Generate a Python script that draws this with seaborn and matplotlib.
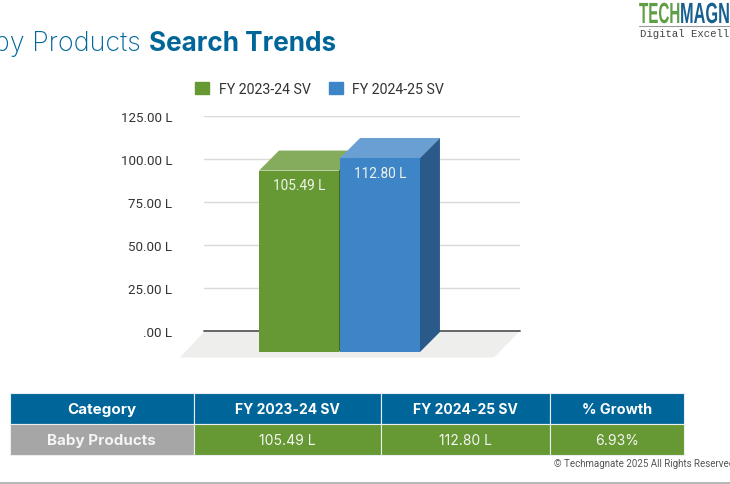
import matplotlib
matplotlib.use("Agg")
import matplotlib.patheffects as pe
import matplotlib.pyplot as plt
import pandas as pd
import seaborn as sns
from matplotlib.patches import Polygon, Rectangle
from matplotlib.transforms import Affine2D

category = ["Baby Products"]
series_names = ["FY 2023-24 SV", "FY 2024-25 SV"]
series_values = [105.49, 112.80]
value_labels = ["105.49 L", "112.80 L"]
tick_values = [0, 25, 50, 75, 100, 125]
tick_labels = [".00 L", "25.00 L", "50.00 L", "75.00 L", "100.00 L", "125.00 L"]
table_header = ["Category", "FY 2023-24 SV", "FY 2024-25 SV", "% Growth"]
table_row = ["Baby Products", "105.49 L", "112.80 L", "6.93%"]

W, H = 730, 485
DEPTH = 20
GREEN = "#669933"
BLUE = "#3d85c6"
TITLE_BLUE = "#006699"

sns.set_theme(style="white")
plt.rcParams["font.family"] = ["Roboto", "DejaVu Sans"]

fig = plt.figure(figsize=(W / 100, H / 100), dpi=100, facecolor="white")


class Squeeze(pe.AbstractPathEffect):
    # no condensed font is installed, so narrow the logo letters sideways
    def __init__(self, x0, factor):
        super().__init__()
        self.x0 = x0
        self.factor = factor

    def draw_path(self, renderer, gc, tpath, affine, rgbFace=None):
        squeeze = Affine2D().translate(-self.x0, 0).scale(self.factor, 1).translate(self.x0, 0)
        renderer.draw_path(gc, tpath, affine + squeeze, rgbFace)


def axes_px(left, top, right, bottom, zorder):
    ax = fig.add_axes(
        [left / W, 1 - bottom / H, (right - left) / W, (bottom - top) / H],
        zorder=zorder,
    )
    ax.patch.set_visible(False)
    return ax


# whole page in pixels, for floor, table and page text
page = axes_px(0, 0, W, H, 0)
page.set_xlim(0, W)
page.set_ylim(H, 0)
page.axis("off")

# floor of the 3d chart
page.add_patch(Polygon([(180, 358.5), (494, 358.5), (520, 332), (205, 332)], color="#eeeeec", lw=0))

# back wall: grid lines and tick labels
back = axes_px(204, 117, 520, 332, 1)
back.set_ylim(0, 125)
back.set_xlim(0, 1)
back.set_xticks([])
back.set_yticks(tick_values)
back.set_yticklabels(tick_labels, fontsize=9.6, color="#333333")
back.tick_params(axis="y", length=0, pad=23)
back.grid(axis="y", color="#d9d9d9", lw=1)
sns.despine(ax=back, left=True, top=True, right=True, bottom=True)
back.axhline(0, color="#666666", lw=1.4, clip_on=False)

# front plane, bars drawn by seaborn
front = axes_px(181.5, 138, 497.5, 353, 3)
df = pd.DataFrame(
    {"category": category * 2, "series": series_names, "value": series_values}
)
sns.barplot(
    data=df, x="category", y="value", hue="series", hue_order=series_names,
    palette=[GREEN, BLUE], width=0.513, gap=0.015, saturation=1, linewidth=0,
    edgecolor="none", ax=front,
)
front.set_ylim(0, 125)
front.set_xlim(-0.5, 0.5)
front.axis("off")

# top and side faces taken from the bars seaborn placed
depth = axes_px(0, 0, W, H, 2)
depth.set_xlim(0, W)
depth.set_ylim(H, 0)
depth.axis("off")
fig.canvas.draw()
face_colors = [("#85ab5c", "#3f6b20"), ("#6a9fd4", "#2a5a8a")]
for container, (top_col, side_col) in zip(front.containers, face_colors):
    bar = container[0]
    x0, y0 = front.transData.transform((bar.get_x(), bar.get_height()))
    x1, y1 = front.transData.transform((bar.get_x() + bar.get_width(), 0))
    ytop, ybot = H - y0, H - y1
    depth.add_patch(Polygon(
        [(x0, ytop), (x1, ytop), (x1 + DEPTH, ytop - DEPTH), (x0 + DEPTH, ytop - DEPTH)],
        color=top_col, lw=0,
    ))
    depth.add_patch(Polygon(
        [(x1, ytop), (x1 + DEPTH, ytop - DEPTH), (x1 + DEPTH, ybot - DEPTH), (x1, ybot)],
        color=side_col, lw=0,
    ))

for container, label in zip(front.containers, value_labels):
    front.bar_label(container, labels=[label], padding=-15.5, fontsize=9.8, color="#f0f4ea")

handles = [Rectangle((0, 0), 1, 1, color=c) for c in [GREEN, BLUE]]
front.legend(
    handles, series_names, loc="upper left", bbox_to_anchor=(195 / W, 1 - 82.5 / H),
    bbox_transform=fig.transFigure, frameon=False, ncol=2, fontsize=10.2,
    handlelength=1.0, handleheight=1.0, handletextpad=0.66, columnspacing=1.3,
    borderpad=0, borderaxespad=0, labelcolor="#333333",
)

# title, the first letters run off the page as in the source
page.text(141, 51, "Baby Products", ha="right", va="baseline", fontsize=19.4,
          color=TITLE_BLUE, family="Inter", weight="light")
page.text(149, 51, "Search Trends", ha="left", va="baseline", fontsize=18.8,
          color=TITLE_BLUE, family="Inter", weight="bold")

# logo
page.text(639, 24, "TECH", ha="left", va="baseline", fontsize=21, color="#5f9e45",
          family="Liberation Sans", weight="bold", path_effects=[Squeeze(639, 0.52)])
page.text(680, 24, "MAGNATE", ha="left", va="baseline", fontsize=21, color="#17608f",
          family="Liberation Sans", weight="bold", path_effects=[Squeeze(680, 0.56)])
page.plot([639, 730], [26.5, 26.5], color="#999999", lw=0.8)
page.text(640, 37, "Digital Excellence", ha="left", va="baseline", fontsize=7.7,
          color="#444444", family="Liberation Mono")

# table under the chart
col_edges = [10, 193.5, 380.5, 550, 684]
row_edges = [394, 424.5, 456]
header_sizes = [10.9, 10, 10, 10.4]
for i, text in enumerate(table_header):
    x0, x1 = col_edges[i], col_edges[i + 1]
    page.add_patch(Rectangle((x0, row_edges[0]), x1 - x0, row_edges[1] - row_edges[0],
                             facecolor=TITLE_BLUE, edgecolor="#e8eef2", lw=0.8))
    page.text((x0 + x1) / 2, (row_edges[0] + row_edges[1]) / 2 - 1, text, ha="center",
              va="center_baseline", fontsize=header_sizes[i], color="white",
              family="Inter", weight="bold")
for i, text in enumerate(table_row):
    x0, x1 = col_edges[i], col_edges[i + 1]
    fill = "#a6a6a6" if i == 0 else GREEN
    page.add_patch(Rectangle((x0, row_edges[1]), x1 - x0, row_edges[2] - row_edges[1],
                             facecolor=fill, edgecolor="#e8eef2", lw=0.8))
    page.text((x0 + x1) / 2, (row_edges[1] + row_edges[2]) / 2 - 1, text, ha="center",
              va="center_baseline", fontsize=10.9 if i == 0 else 10, color="#f5f5f5",
              family="Inter", weight="bold" if i == 0 else "normal")

page.text(554, 467, "© Techmagnate 2025 All Rights Reserved", ha="left", va="baseline",
          fontsize=7.0, color="#555555")
page.plot([0, W], [484, 484], color="#aaaaaa", lw=1.2, clip_on=False)

plt.savefig("out.png", dpi=100)
plt.close()
